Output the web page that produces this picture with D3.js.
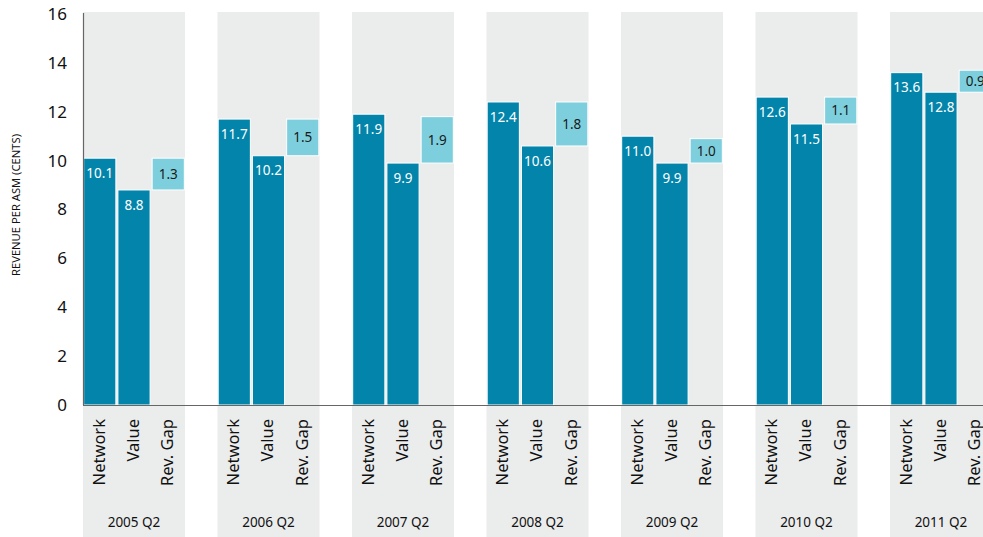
<!DOCTYPE html>
<html><head><meta charset="utf-8">
<script src="https://cdn.jsdelivr.net/npm/d3@7"></script>
<style>body{margin:0;background:#fff}svg{display:block}text{font-family:"Noto Sans","Open Sans",sans-serif}</style>
</head><body><svg id="c" width="983" height="537"></svg>
<script>
const periods = ["2005 Q2","2006 Q2","2007 Q2","2008 Q2","2009 Q2","2010 Q2","2011 Q2"];
const series = ["Network","Value","Rev. Gap"];
const network = [10.1,11.7,11.9,12.4,11.0,12.6,13.6];
const value = [8.8,10.2,9.9,10.6,9.9,11.5,12.8];
const gap = [1.3,1.5,1.9,1.8,1.0,1.1,0.9];
const yTicks = [0,2,4,6,8,10,12,14,16];

const svg = d3.select("#c");
const x0 = 83, y0 = 405, yTop = 14;
const y = d3.scaleLinear().domain([0,16]).range([y0,yTop]);
const gx = d3.scaleBand().domain(periods).range([x0, 992]).paddingInner(0.2416).paddingOuter(0);
const bx = d3.scaleBand().domain(series).range([0, gx.bandwidth()]).paddingInner(0.06).paddingOuter(0.02);

const dark = "#0385ab", light = "#7ecfdd", panel = "#ebecec";

svg.append("g").selectAll("rect").data(periods).join("rect")
  .attr("x", d=>gx(d)).attr("y", 12).attr("width", gx.bandwidth()).attr("height", 537-12)
  .attr("fill", panel);

const g = svg.append("g").selectAll("g").data(periods).join("g")
  .attr("transform", d=>`translate(${gx(d)},0)`);

g.each(function(p,i){
  const s = d3.select(this);
  const bars = [
    {k:"Network", lo:0, hi:network[i], c:dark, t:network[i], tc:"#fff", mid:false},
    {k:"Value", lo:0, hi:value[i], c:dark, t:value[i], tc:"#fff", mid:false},
    {k:"Rev. Gap", lo:value[i], hi:value[i]+gap[i], c:light, t:gap[i], tc:"#1a1a1a", mid:true}
  ];
  s.selectAll("rect").data(bars).join("rect")
    .attr("x", d=>bx(d.k)).attr("width", bx.bandwidth())
    .attr("y", d=>y(d.hi)).attr("height", d=>y(d.lo)-y(d.hi))
    .attr("fill", d=>d.c).attr("stroke","#fff").attr("stroke-width",1);
  s.selectAll("text.v").data(bars).join("text").attr("class","v")
    .attr("x", d=>bx(d.k)+bx.bandwidth()/2)
    .attr("y", d=> d.mid ? (y(d.hi)+y(d.lo))/2 : y(d.hi)+15)
    .attr("dy", "0.35em")
    .attr("text-anchor","middle").attr("font-size",13.5).attr("fill", d=>d.tc)
    .text(d=>d.t.toFixed(1));
  s.selectAll("text.c").data(series).join("text").attr("class","c")
    .attr("transform", d=>`translate(${bx(d)+bx.bandwidth()/2-1},419) rotate(-90)`)
    .attr("text-anchor","end").attr("dy","0.35em").attr("font-size",16.5).attr("fill","#111")
    .text(d=>d);
  s.append("text").attr("x", gx.bandwidth()/2).attr("y", 527)
    .attr("text-anchor","middle").attr("font-size",13.5).attr("fill","#111").text(p);
});

svg.append("line").attr("x1",x0).attr("x2",983).attr("y1",y0+0.5).attr("y2",y0+0.5).attr("stroke","#666").attr("stroke-width",1.2);
svg.append("line").attr("x1",x0+0.5).attr("x2",x0+0.5).attr("y1",13).attr("y2",y0).attr("stroke","#666").attr("stroke-width",1.2);

const ax = svg.append("g").attr("transform",`translate(${x0},0)`)
  .call(d3.axisLeft(y).tickValues(yTicks).tickSize(0).tickPadding(16).tickFormat(d3.format("d")));
ax.select(".domain").remove();
ax.selectAll("text").attr("font-size",17).attr("fill","#111").attr("font-family","'Noto Sans',sans-serif");

svg.append("text").attr("transform","translate(16,205) rotate(-90)")
  .attr("text-anchor","middle").attr("dy","0.35em").attr("font-size",11.2).attr("fill","#111")
  .text("REVENUE PER ASM (CENTS)");
</script></body></html>
